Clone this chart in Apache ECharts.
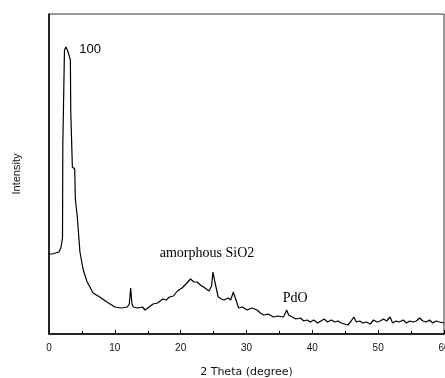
<!DOCTYPE html>
<html>
<head>
<meta charset="utf-8">
<script src="https://cdn.jsdelivr.net/npm/echarts@6/dist/echarts.min.js"></script>
<style>
  html, body { margin: 0; padding: 0; background: #fff; }
  #chart { width: 445px; height: 378px; }
</style>
</head>
<body>
<div id="chart"></div>
<script>
// 2 theta (degree)
const twoTheta = [
  0, 0.5, 1, 1.5, 1.8, 1.95, 2.05, 2.1, 2.3, 2.35, 2.6, 2.8, 2.9, 3.25, 3.3, 3.5, 3.55, 3.9, 4.0, 4.3,
  4.7, 5.2, 5.8, 6.7, 7.7, 8.8, 10, 11, 11.9, 12.2, 12.4, 12.6, 12.8, 13.5, 14.2, 14.6, 15.2, 15.8,
  16.5, 17.3, 17.8, 18.3, 18.9, 19.5, 20.2, 20.8, 21.5, 22.0, 22.5, 23.0, 23.7, 24.3, 24.7, 24.9,
  25.2, 25.7, 26.2, 26.6, 27.2, 27.6, 28.0, 28.4, 28.8, 29.4, 30.1, 30.8, 31.6, 32.1, 32.6, 33.3,
  34.1, 34.8, 35.6, 35.9, 36.1, 36.4, 36.7, 37.5, 38.2, 38.7, 39.2, 39.7, 40.2, 40.8, 41.3, 41.8,
  42.3, 42.9, 43.4, 43.9, 44.4, 44.9, 45.4, 45.9, 46.3, 46.7, 47.2, 47.7, 48.2, 48.8, 49.3, 49.8,
  50.3, 50.8, 51.3, 51.8, 52.2, 52.7, 53.2, 53.8, 54.3, 54.8, 55.3, 55.8, 56.3, 56.8, 57.3, 57.8,
  58.3, 58.8, 59.3, 60
];
// intensity (arbitrary units)
const intensity = [
  80, 80, 81, 82, 86, 92, 96, 189, 190, 284, 287, 286, 282, 274, 224, 222, 167, 165, 135, 117,
  82, 64, 52, 41, 37, 32, 27, 26, 27, 30, 46, 30, 27, 26, 27, 24, 27, 30,
  31, 35, 34, 37, 38, 43, 46, 50, 55, 52, 52, 49, 46, 43, 48, 62,
  52, 37, 35, 34, 36, 34, 42, 34, 26, 27, 24, 26, 24, 21, 19, 20,
  17, 18, 17, 21, 24, 19, 17, 15, 16, 13, 14, 12, 14, 11, 13, 15,
  12, 14, 12, 13, 11, 10, 9, 13, 17, 12, 13, 11, 12, 10, 14, 12,
  13, 15, 13, 17, 11, 13, 12, 14, 11, 13, 12, 13, 16, 13, 12, 14,
  11, 13, 12, 11
];
const xTicks = [0, 10, 20, 30, 40, 50, 60];
const notes = [
  { text: '100', at: [4.6, 285], pos: 'right', font: '"Liberation Sans", Arial, sans-serif', size: 13 },
  { text: 'amorphous SiO2', at: [24.0, 81], pos: 'inside', font: '"Liberation Serif", "Times New Roman", serif', size: 14 },
  { text: 'PdO', at: [37.4, 36], pos: 'inside', font: '"Liberation Serif", "Times New Roman", serif', size: 14 }
];

const chart = echarts.init(document.getElementById('chart'), null, { renderer: 'canvas' });

const option = {
  animation: false,
  backgroundColor: '#fff',
  grid: {
    left: 49, right: 1, top: 14, bottom: 44,
    outerBoundsMode: 'none',
    show: true, borderColor: '#333', borderWidth: 1
  },
  xAxis: {
    type: 'value',
    min: 0, max: 60, interval: 10,
    name: '2 Theta (degree)',
    nameLocation: 'middle',
    nameGap: 33,
    nameTextStyle: { color: '#111', fontSize: 11, fontFamily: '"DejaVu Sans", sans-serif' },
    axisLine: { lineStyle: { color: '#000', width: 1.5 } },
    axisTick: { inside: true, length: 4, lineStyle: { color: '#000' } },
    minorTick: { show: true, splitNumber: 2, length: 3, lineStyle: { color: '#000' } },
    axisLabel: {
      color: '#111', fontSize: 10, margin: 9,
      fontFamily: '"Liberation Sans", Arial, sans-serif',
      formatter: v => xTicks.includes(v) ? String(v) : ''
    },
    splitLine: { show: false }
  },
  yAxis: {
    type: 'value',
    min: 0, max: 320,
    name: 'Intensity',
    nameLocation: 'middle',
    nameGap: 27,
    nameTextStyle: { color: '#111', fontSize: 11, fontFamily: '"Liberation Sans", Arial, sans-serif' },
    axisLine: { show: true, lineStyle: { color: '#000', width: 1.5 } },
    axisTick: { show: false },
    axisLabel: { show: false },
    splitLine: { show: false }
  },
  series: [{
    type: 'line',
    data: twoTheta.map((x, i) => [x, intensity[i]]),
    showSymbol: false,
    lineStyle: { color: '#000', width: 1.2 },
    markPoint: {
      symbolSize: 0,
      data: notes.map(n => ({
        coord: n.at,
        label: {
          show: true, formatter: n.text, position: n.pos, distance: 0,
          color: '#000', fontSize: n.size, fontFamily: n.font
        }
      }))
    }
  }]
};

chart.setOption(option);
</script>
</body>
</html>
